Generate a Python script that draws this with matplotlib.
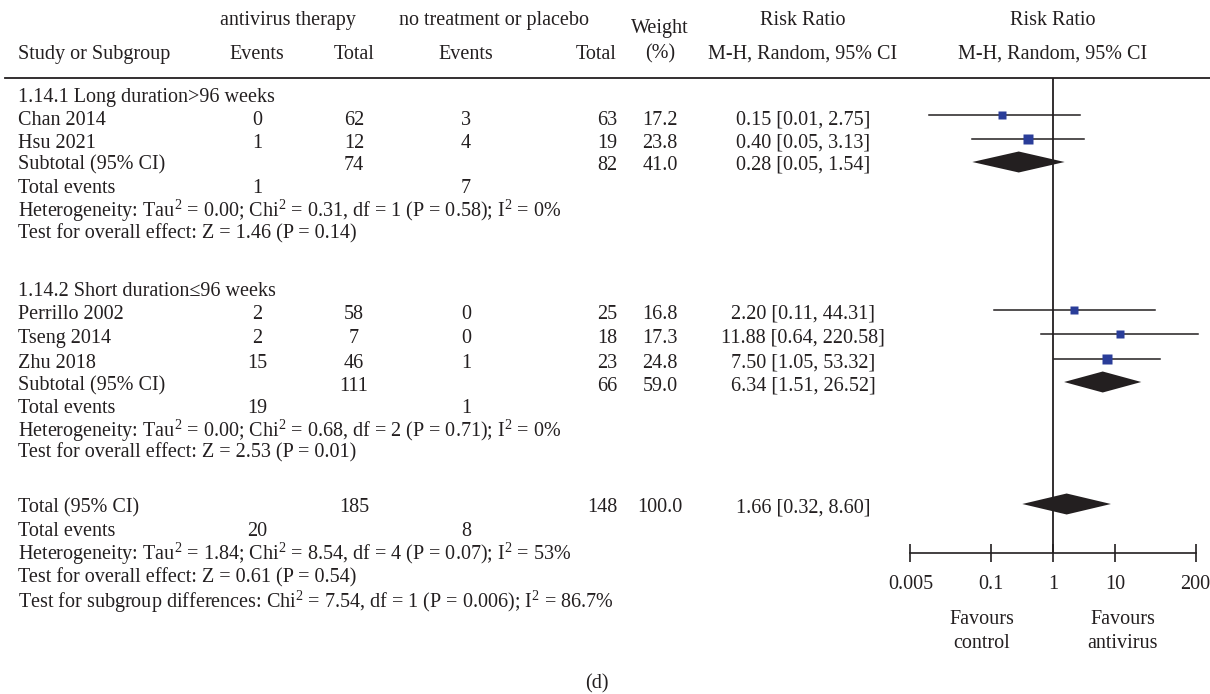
import matplotlib
matplotlib.use('Agg')
import matplotlib.pyplot as plt

plt.rcParams['font.family'] = ['Liberation Serif', 'DejaVu Serif']
plt.rcParams['mathtext.fontset'] = 'custom'
plt.rcParams['mathtext.rm'] = 'Liberation Serif'
plt.rcParams['mathtext.it'] = 'Liberation Serif'
plt.rcParams['mathtext.default'] = 'rm'

# data
studies = ['Chan 2014', 'Hsu 2021', 'Perrillo 2002', 'Tseng 2014', 'Zhu 2018']
events_av = [0, 1, 2, 2, 15]
total_av = [62, 12, 58, 7, 46]
events_ctl = [3, 4, 0, 0, 1]
total_ctl = [63, 19, 25, 18, 23]
weights = [17.2, 23.8, 16.8, 17.3, 24.8]
rr = [0.15, 0.40, 2.20, 11.88, 7.50]
rr_lo = [0.01, 0.05, 0.11, 0.64, 1.05]
rr_hi = [2.75, 3.13, 44.31, 220.58, 53.32]

sub_names = ['1.14.1 Long duration>96 weeks', '1.14.2 Short duration\u226496 weeks']
sub_total_av = [74, 111]
sub_total_ctl = [82, 66]
sub_events_av = [1, 19]
sub_events_ctl = [7, 1]
sub_weight = [41.0, 59.0]
sub_rr = [0.28, 6.34]
sub_lo = [0.05, 1.51]
sub_hi = [1.54, 26.52]
sub_het = ['Heterogeneity: Tau$^2$ = 0.00; Chi$^2$ = 0.31, df = 1 (P = 0.58); I$^2$ = 0%',
           'Heterogeneity: Tau$^2$ = 0.00; Chi$^2$ = 0.68, df = 2 (P = 0.71); I$^2$ = 0%']
sub_test = ['Test for overall effect: Z = 1.46 (P = 0.14)',
            'Test for overall effect: Z = 2.53 (P = 0.01)']

tot_av, tot_ctl, tot_w = 185, 148, 100.0
tot_rr, tot_lo, tot_hi = 1.66, 0.32, 8.60
tot_ev_av, tot_ev_ctl = 20, 8
tot_het = 'Heterogeneity: Tau$^2$ = 1.84; Chi$^2$ = 8.54, df = 4 (P = 0.07); I$^2$ = 53%'
tot_test = 'Test for overall effect: Z = 0.61 (P = 0.54)'
subgroup_test = 'Test for subgroup differences: Chi$^2$ = 7.54, df = 1 (P = 0.006); I$^2$ = 86.7%'

ticks = [0.005, 0.1, 1, 10, 200]
tick_labels = ['0.005', '0.1', '1', '10', '200']

W, H = 1210, 694
fig = plt.figure(figsize=(12.1, 6.94), dpi=100)
tax = fig.add_axes([0, 0, 1, 1])
tax.set_xlim(0, W)
tax.set_ylim(H, 0)
tax.axis('off')

fs = 14.5
ink = '#231f20'
c_ev1, c_tot1, c_ev2, c_tot2, c_w, c_rr = 257, 354, 466, 617, 660, 803
x0 = 18

def txt(x, y, s, ha='center'):
    tax.text(x, y, s, ha=ha, va='center', fontsize=fs, color=ink)

# header
txt(288, 20, 'antivirus therapy')
txt(494, 20, 'no treatment or placebo')
txt(c_w, 28, 'Weight')
txt(c_rr, 20, 'Risk Ratio')
txt(1053, 20, 'Risk Ratio')
txt(x0, 54, 'Study or Subgroup', ha='left')
txt(c_ev1, 54, 'Events')
txt(c_tot1, 54, 'Total')
txt(c_ev2, 54, 'Events')
txt(c_tot2, 54, 'Total', ha='right')
txt(c_w, 54, '(%)')
txt(c_rr, 54, 'M-H, Random, 95% CI')
txt(1053, 54, 'M-H, Random, 95% CI')
tax.plot([5, W], [78, 78], color=ink, lw=1.3)

# forest axes, log scale, y in pixels
left, right = 10 ** -2.6, 10 ** 2.5
px_left = 1053 - 2.6 * 62
px_w = 5.1 * 62
fax = fig.add_axes([px_left / W, 0, px_w / W, 1])
fax.set_xscale('log')
fax.set_xlim(left, right)
fax.set_ylim(H, 0)
fax.patch.set_alpha(0)
for s in ['top', 'left', 'right']:
    fax.spines[s].set_visible(False)
fax.spines['bottom'].set_position(('data', 553))
fax.spines['bottom'].set_bounds(ticks[0], ticks[-1])
fax.spines['bottom'].set_linewidth(1.2)
fax.spines['bottom'].set_color(ink)
fax.set_yticks([])
fax.set_xticks(ticks)
fax.set_xticklabels(tick_labels, fontsize=fs, color=ink)
fax.minorticks_off()
fax.tick_params(axis='x', direction='inout', length=13, width=1.2, pad=9, color=ink)
fax.vlines(1, 78, 553, color=ink, lw=1.3)

def diamond(y, est, lo, hi, h=10.5):
    fax.fill([lo, est, hi, est], [y, y - h, y, y + h], color=ink, lw=0)

study_y = [115, 139, 310, 334, 359]
text_y = [120, 143, 314, 338, 363]
sub_rows = [
    dict(head=97, sub=165, diam=162, ev=188, het=211, test=234),
    dict(head=291, sub=386, diam=382, ev=408, het=431, test=453),
]

for i, name in enumerate(studies):
    y = text_y[i]
    txt(x0, y, name, ha='left')
    txt(c_ev1, y, str(events_av[i]))
    txt(c_tot1, y, str(total_av[i]))
    txt(c_ev2, y, str(events_ctl[i]))
    txt(c_tot2, y, str(total_ctl[i]), ha='right')
    txt(c_w, y, f'{weights[i]:.1f}')
    txt(c_rr, y, f'{rr[i]:.2f} [{rr_lo[i]:.2f}, {rr_hi[i]:.2f}]')
    fax.plot([rr_lo[i], rr_hi[i]], [study_y[i]] * 2, color=ink, lw=1.1)
    fax.plot(rr[i], study_y[i], marker='s', color='#2a3d99', ms=1.95 * weights[i] ** 0.5 * 0.72,
             mec='none')

for g, rows in enumerate(sub_rows):
    txt(x0, rows['head'], sub_names[g], ha='left')
    txt(x0, rows['sub'], 'Subtotal (95% CI)', ha='left')
    txt(c_tot1, rows['sub'], str(sub_total_av[g]))
    txt(c_tot2, rows['sub'], str(sub_total_ctl[g]), ha='right')
    txt(c_w, rows['sub'], f'{sub_weight[g]:.1f}')
    txt(c_rr, rows['sub'], f'{sub_rr[g]:.2f} [{sub_lo[g]:.2f}, {sub_hi[g]:.2f}]')
    diamond(rows['diam'], sub_rr[g], sub_lo[g], sub_hi[g])
    txt(x0, rows['ev'], 'Total events', ha='left')
    txt(c_ev1, rows['ev'], str(sub_events_av[g]))
    txt(c_ev2, rows['ev'], str(sub_events_ctl[g]))
    txt(x0, rows['het'], sub_het[g], ha='left')
    txt(x0, rows['test'], sub_test[g], ha='left')

txt(x0, 508, 'Total (95% CI)', ha='left')
txt(c_tot1, 508, str(tot_av))
txt(c_tot2, 508, str(tot_ctl), ha='right')
txt(c_w, 508, f'{tot_w:.1f}')
txt(c_rr, 508, f'{tot_rr:.2f} [{tot_lo:.2f}, {tot_hi:.2f}]')
diamond(504, tot_rr, tot_lo, tot_hi)
txt(x0, 531, 'Total events', ha='left')
txt(c_ev1, 531, str(tot_ev_av))
txt(c_ev2, 531, str(tot_ev_ctl))
txt(x0, 554, tot_het, ha='left')
txt(x0, 578, tot_test, ha='left')
txt(x0, 602, subgroup_test, ha='left')

txt(982, 620, 'Favours')
txt(982, 643, 'control')
txt(1123, 620, 'Favours')
txt(1123, 643, 'antivirus')
txt(597, 684, '(d)')

fig.savefig('out.png', dpi=100)
